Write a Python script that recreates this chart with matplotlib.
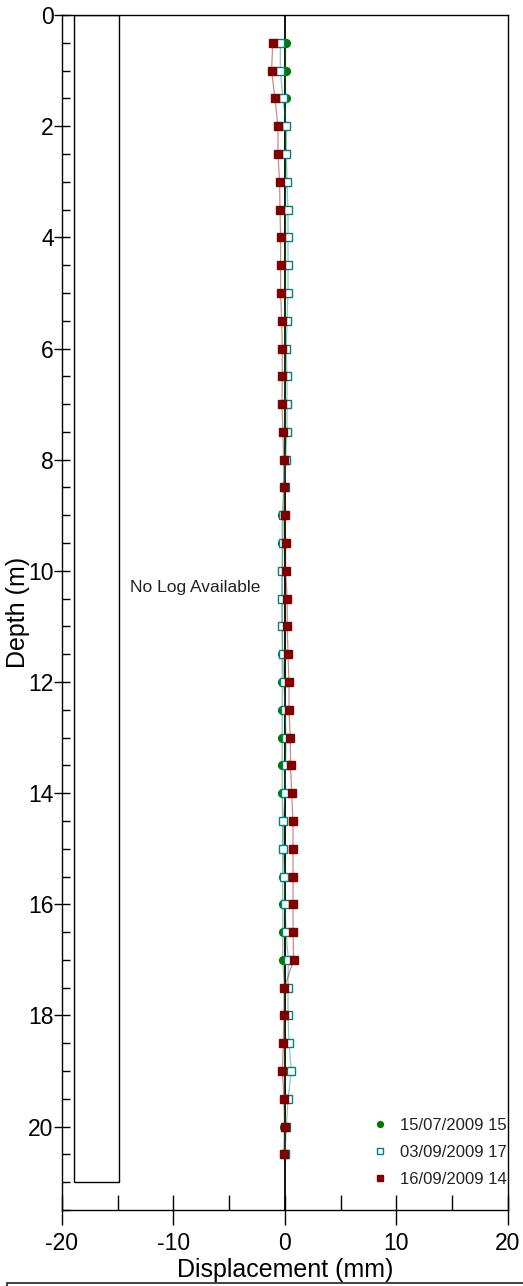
# ======================================
# Inclinometer profile - displacement vs depth
# ======================================

import matplotlib
matplotlib.use("Agg")

import matplotlib.pyplot as plt
from matplotlib.patches import Rectangle
from matplotlib.ticker import MultipleLocator

plt.rcParams["font.family"] = ["Liberation Sans", "DejaVu Sans"]
plt.rcParams["axes.unicode_minus"] = False

# ======================================
# DATA
# ======================================

depth = [
    0.5, 1.0, 1.5, 2.0, 2.5, 3.0, 3.5, 4.0, 4.5, 5.0,
    5.5, 6.0, 6.5, 7.0, 7.5, 8.0, 8.5, 9.0, 9.5, 10.0,
    10.5, 11.0, 11.5, 12.0, 12.5, 13.0, 13.5, 14.0, 14.5, 15.0,
    15.5, 16.0, 16.5, 17.0, 17.5, 18.0, 18.5, 19.0, 19.5, 20.0,
    20.5
]

# 15/07/2009 - base reading
disp_jul15 = [
    0.05, 0.05, 0.05, 0.05, 0.05, 0.05, 0.05, 0.05, 0.05, 0.05,
    0.0, 0.0, 0.0, 0.0, 0.0, 0.0, -0.1, -0.25, -0.25, -0.25,
    -0.25, -0.25, -0.25, -0.25, -0.25, -0.25, -0.25, -0.25, -0.22, -0.22,
    -0.2, -0.2, -0.2, -0.2, -0.05, -0.05, -0.05, -0.05, -0.05, -0.05,
    -0.05
]

# 03/09/2009
disp_sep03 = [
    -0.42, -0.42, -0.18, 0.12, 0.12, 0.18, 0.27, 0.27, 0.27, 0.27,
    0.18, 0.12, 0.18, 0.18, 0.18, 0.06, -0.03, -0.15, -0.18, -0.24,
    -0.3, -0.24, -0.2, -0.1, 0.0, 0.1, 0.05, 0.0, -0.15, -0.15,
    -0.05, 0.0, 0.1, 0.3, 0.27, 0.27, 0.36, 0.57, 0.27, 0.12,
    0.0
]

# 16/09/2009
disp_sep16 = [
    -1.1, -1.2, -0.9, -0.63, -0.63, -0.48, -0.45, -0.39, -0.39, -0.39,
    -0.3, -0.24, -0.24, -0.27, -0.18, -0.12, -0.09, 0.03, 0.06, 0.06,
    0.2, 0.2, 0.27, 0.36, 0.36, 0.48, 0.5, 0.6, 0.72, 0.72,
    0.72, 0.72, 0.72, 0.78, -0.06, -0.09, -0.15, -0.24, -0.09, -0.03,
    -0.09
]

# legend labels as far as they show inside the frame
labels = [
    "15/07/2009 15",
    "03/09/2009 17",
    "16/09/2009 14"
]

# ======================================
# FIGURE
# ======================================

fig = plt.figure(figsize=(5.23, 12.86), dpi=100)

ax = fig.add_axes([0.1185, 0.0591, 0.8528, 0.9292])

# borehole log column
ax.add_patch(
    Rectangle(
        (-18.9, 0),
        4.0,
        21.0,
        fill=False,
        edgecolor="black",
        linewidth=1.0
    )
)

ax.text(
    -13.9,
    10.3,
    "No Log Available",
    fontsize=12.5,
    va="center",
    color="#222222"
)

# zero line
ax.axvline(0, color="black", linewidth=1.3, zorder=2)

# ======================================
# SERIES
# ======================================

# connecting lines
ax.plot(disp_jul15, depth, color="#008000", alpha=0.45, linewidth=0.9, zorder=3)
ax.plot(disp_sep03, depth, color="#008080", alpha=0.45, linewidth=0.9, zorder=4)
ax.plot(disp_sep16, depth, color="#800000", alpha=0.45, linewidth=0.9, zorder=5)

# markers
ax.plot(
    disp_jul15,
    depth,
    linestyle="none",
    marker="o",
    markersize=5.6,
    color="#007a00",
    label=labels[0],
    zorder=6
)

ax.plot(
    disp_sep03,
    depth,
    linestyle="none",
    marker="s",
    markersize=5.5,
    markerfacecolor="white",
    markeredgecolor="#008080",
    markeredgewidth=1.0,
    label=labels[1],
    zorder=7
)

ax.plot(
    disp_sep16,
    depth,
    linestyle="none",
    marker="s",
    markersize=5.6,
    color="#800000",
    label=labels[2],
    zorder=8
)

# ======================================
# AXES
# ======================================

ax.set_xlim(-20, 20)
ax.set_ylim(21.5, 0)

ax.xaxis.set_major_locator(MultipleLocator(10))
ax.xaxis.set_minor_locator(MultipleLocator(5))
ax.yaxis.set_major_locator(MultipleLocator(2))
ax.yaxis.set_minor_locator(MultipleLocator(0.5))

ax.tick_params(axis="x", which="major", direction="inout", length=21.6, width=1.0, labelsize=16.5, pad=5)
ax.tick_params(axis="x", which="minor", direction="in", length=10.8, width=1.0)
ax.tick_params(axis="y", which="major", direction="inout", length=12, width=1.0, labelsize=16.5, pad=0)
ax.tick_params(axis="y", which="minor", direction="in", length=6, width=1.0)

for spine in ax.spines.values():
    spine.set_linewidth(1.0)

ax.set_xlabel("Displacement (mm)", fontsize=18, labelpad=2.5)
ax.set_ylabel("Depth (m)", fontsize=18)
ax.yaxis.set_label_coords(-0.072, 0.5)

# ======================================
# LEGEND (text clipped by the plot frame)
# ======================================

leg = ax.legend(
    loc="upper left",
    bbox_to_anchor=(0.694, 0.077),
    bbox_transform=ax.transAxes,
    frameon=False,
    fontsize=12,
    handlelength=1.0,
    handletextpad=0.7,
    labelspacing=0.71,
    borderpad=0,
    borderaxespad=0,
    markerscale=0.75
)

for t in leg.get_texts():
    t.set_color("#222222")
    t.set_clip_on(True)
    t.set_clip_box(ax.bbox)

# frame of the table below the chart
fig.patches.append(
    Rectangle(
        (0.0134, -0.1),
        2.0,
        0.1 + 3 / 1286,
        transform=fig.transFigure,
        fill=False,
        edgecolor="#333333",
        linewidth=1.3
    )
)

plt.savefig("out.png", dpi=100)
